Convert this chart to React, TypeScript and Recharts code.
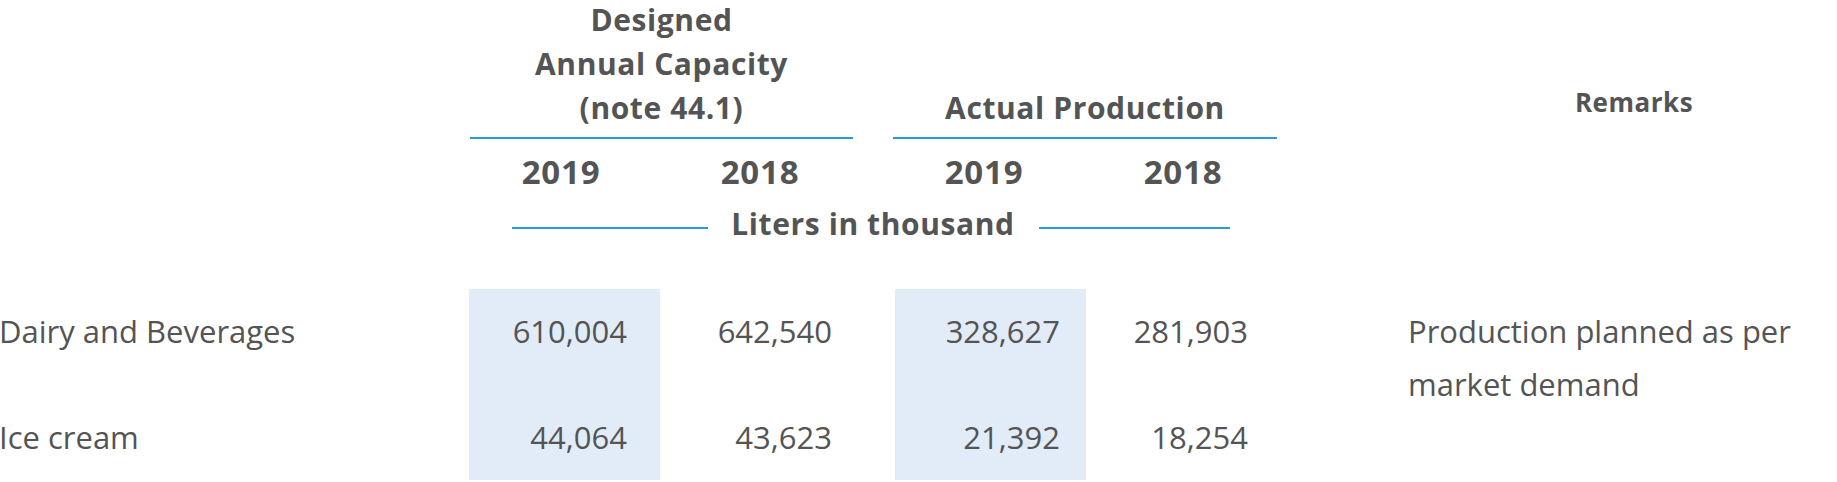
import { ComposedChart, Customized } from "recharts"

const headerGroups = [
  { lines: ["Designed", "Annual Capacity", "(note 44.1)"], x1: 470, x2: 853 },
  { lines: ["Actual Production"], x1: 893, x2: 1277 },
]
const years = ["2019", "2018", "2019", "2018"]
const unitLabel = "Liters in thousand"
const remarksTitle = "Remarks"
const rowLabels = ["Dairy and Beverages", "Ice cream"]
const designed2019 = [610004, 44064]
const designed2018 = [642540, 43623]
const actual2019 = [328627, 21392]
const actual2018 = [281903, 18254]
const remarks = [["Production planned as per", "market demand"], []]

const W = 1837
const H = 482
const TEXT = "#545454"
const BLUE = "#2a9bd8"
const SHADE = "#e1ecf8"
const FONT = "'Open Sans', sans-serif"

const colCenters = [561, 760, 984, 1183]
const colRight = [627, 832, 1060, 1248]
const shaded = [true, false, true, false]
const colLefts = [469, 895]
const rowY = [332, 438]

const fmt = (v: number) => v.toLocaleString("en-US")

function Table() {
  const cols = [designed2019, designed2018, actual2019, actual2018]
  let s = 0
  return (
    <g fontFamily={FONT}>
      {shaded.map((on, i) =>
        on ? <rect key={i} x={colLefts[s++]} y={289} width={191} height={191} fill={SHADE} /> : null
      )}
      {headerGroups.map((g, gi) => {
        const cx = (g.x1 + g.x2) / 2
        const startY = 138 - 19 - (g.lines.length - 1) * 44
        return (
          <g key={gi}>
            {g.lines.map((l, li) => (
              <text key={li} x={cx} y={startY + li * 44} textAnchor="middle" fontSize={30} fontWeight={700} letterSpacing={0.6} fill={TEXT}>
                {l}
              </text>
            ))}
            <line x1={g.x1} x2={g.x2} y1={138} y2={138} stroke={BLUE} strokeWidth={2} />
          </g>
        )
      })}
      <text x={1634} y={112} textAnchor="middle" fontSize={26} fontWeight={700} letterSpacing={0.5} fill={TEXT}>
        {remarksTitle}
      </text>
      {years.map((y, i) => (
        <text key={i} x={colCenters[i]} y={184} textAnchor="middle" fontSize={33} fontWeight={700} letterSpacing={0.8} fill={TEXT}>
          {y}
        </text>
      ))}
      <line x1={512} x2={708} y1={228} y2={228} stroke={BLUE} strokeWidth={2} />
      <line x1={1039} x2={1230} y1={228} y2={228} stroke={BLUE} strokeWidth={2} />
      <text x={873} y={235} textAnchor="middle" fontSize={30} fontWeight={700} letterSpacing={0.6} fill={TEXT}>
        {unitLabel}
      </text>
      {rowLabels.map((r, ri) => (
        <g key={ri}>
          <text x={-1} y={rowY[ri] + 11} fontSize={31} fontWeight={400} fill={TEXT}>
            {r}
          </text>
          {cols.map((c, ci) => (
            <text key={ci} x={colRight[ci]} y={rowY[ri] + 11} textAnchor="end" fontSize={31} fontWeight={400} fill={TEXT}>
              {fmt(c[ri])}
            </text>
          ))}
          {remarks[ri].map((l, li) => (
            <text key={li} x={1408} y={rowY[ri] + 11 + li * 53} fontSize={31} fontWeight={400} fill={TEXT}>
              {l}
            </text>
          ))}
        </g>
      ))}
    </g>
  )
}

export default function App() {
  return (
    <div style={{ position: "absolute", left: 0, top: 0, width: W, height: H, overflow: "hidden", background: "#fff" }}>
      <ComposedChart width={W} height={H} data={[{}]} margin={{ top: 0, right: 0, bottom: 0, left: 0 }}>
        <Customized component={<Table />} />
      </ComposedChart>
    </div>
  )
}
